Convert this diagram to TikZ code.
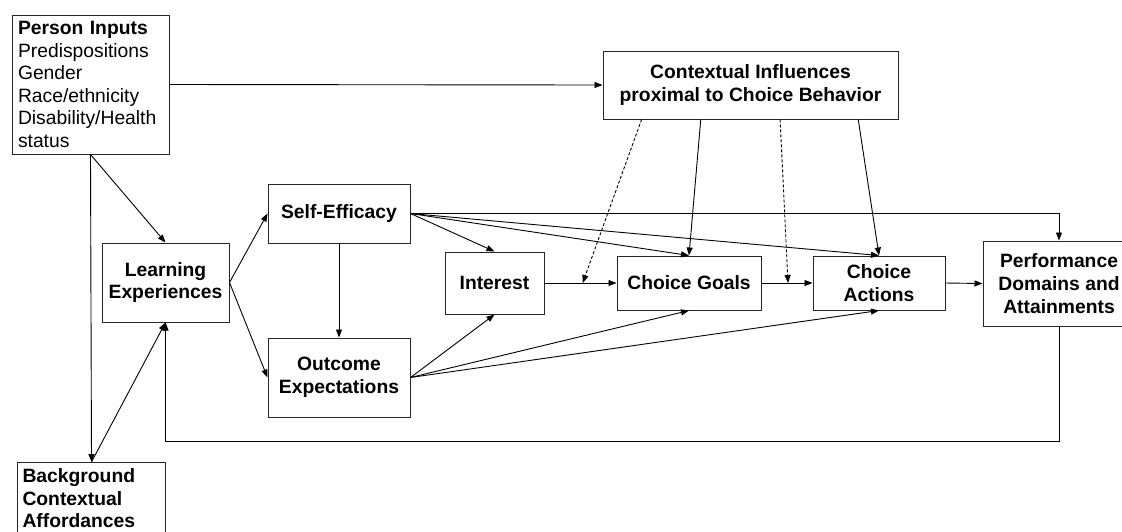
\documentclass[tikz,border=0pt]{standalone}
\usepackage{fontspec}
\setmainfont{Liberation Sans}
\usetikzlibrary{arrows.meta,calc}
\begin{document}
\begin{tikzpicture}[x=1pt,y=-1pt,
  txt/.style={font=\fontsize{19.3}{22.6}\selectfont},
  box/.style={txt, draw=black!85, line width=1pt, rectangle, inner sep=0pt,
    align=center, font=\bfseries\fontsize{19.3}{22.6}\selectfont},
  link/.style={line width=0.9pt, -{Triangle[length=8pt,width=6pt]}},
  dlink/.style={link, densely dashed}]
\useasboundingbox (0,0) rectangle (1122,531);
\clip (0,0) rectangle (1122,531);
\fill[white] (0,0) rectangle (1122,531);

% boxes
\node[box, font=\fontsize{19.3}{22.6}\selectfont, align=left, text width=145pt,
  inner xsep=6pt, minimum height=139pt] (pi) at (90.5,84.5)
  {\textbf{Person Inputs}\\Predispositions\\Gender\\Race/ethnicity\\Disability/Health\\status};
\node[box, minimum width=295pt, minimum height=68pt] (ctx) at (750.5,85)
  {Contextual Influences\\proximal to Choice Behavior};
\node[box, minimum width=127pt, minimum height=79pt] (le) at (165.5,282.5)
  {Learning\\Experiences};
\node[box, minimum width=142pt, minimum height=59pt] (se) at (339,213.5)
  {Self-Efficacy};
\node[box, minimum width=142pt, minimum height=79pt] (oe) at (339,377.5)
  {Outcome\\Expectations};
\node[box, minimum width=99pt, minimum height=62pt] (int) at (494.5,283)
  {Interest};
\node[box, minimum width=144pt, minimum height=54pt] (cg) at (689,283)
  {Choice Goals};
\node[box, minimum width=132pt, minimum height=54pt] (ca) at (879,283)
  {Choice\\Actions};
\node[box, minimum width=152pt, minimum height=85pt] (perf) at (1059,283.5)
  {Performance\\Domains and\\Attainments};
\node[box, anchor=north west, align=left, text width=138pt, inner xsep=5pt,
  inner ysep=6pt] (bg) at (17,462)
  {Background\\Contextual\\Affordances\\\mbox{}};

% points on the bottom edge of the contextual box
\coordinate (c1) at ($(ctx.south west)!0.132!(ctx.south east)$);
\coordinate (c2) at ($(ctx.south west)!0.332!(ctx.south east)$);
\coordinate (c3) at ($(ctx.south west)!0.600!(ctx.south east)$);
\coordinate (c4) at ($(ctx.south west)!0.864!(ctx.south east)$);
% moderating targets on the goal paths
\coordinate (d1) at ($(int.east)!0.53!(cg.west)$);
\coordinate (d2) at ($(cg.east)!0.52!(ca.west)$);

% connectors
\draw[link] (pi.east) -- (ctx.west);
\draw[link] (pi.south) -- (bg.north);
\draw[link] (pi.south) -- (le.north);
\draw[link] (bg.north) -- (le.south);
\draw[link] (le.east) -- (se.west);
\draw[link] (le.east) -- (oe.west);
\draw[link] (se.south) -- (oe.north);
\draw[link] (se.east) -- (int.north);
\draw[link] (se.east) -- (cg.north);
\draw[link] (se.east) -- (ca.north);
\draw[link] (se.east) -| (perf.north);
\draw[link] (oe.east) -- (int.south);
\draw[link] (oe.east) -- (cg.south);
\draw[link] (oe.east) -- (ca.south);
\draw[link] (int.east) -- (cg.west);
\draw[link] (cg.east) -- (ca.west);
\draw[link] (ca.east) -- (perf.west);
\draw[link] (perf.south) -- ++(0,115) -| (le.south);
\draw[dlink] (c1) -- (d1);
\draw[link] (c2) -- (cg.north);
\draw[dlink] (c3) -- (d2);
\draw[link] (c4) -- (ca.north);
\end{tikzpicture}
\end{document}
